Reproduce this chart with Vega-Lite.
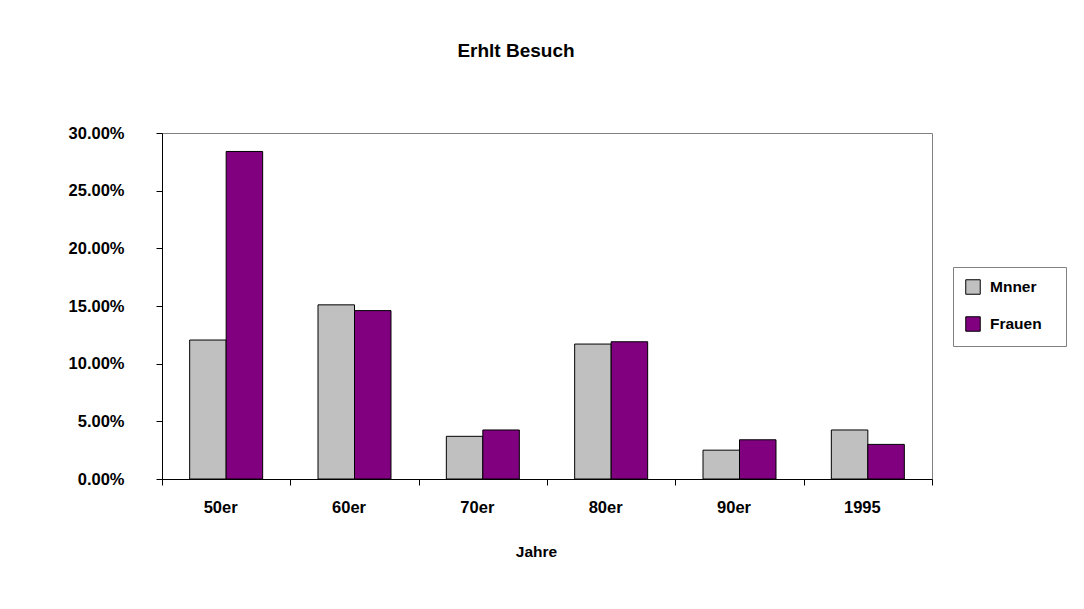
{
  "$schema": "https://vega.github.io/schema/vega-lite/v6.json",
  "width": 770,
  "height": 346,
  "autosize": {"type": "none"},
  "padding": {"left": 162, "top": 133, "right": 152, "bottom": 130},
  "background": "white",
  "title": {
    "text": "Erhlt Besuch",
    "font": "Liberation Sans",
    "fontSize": 19,
    "fontWeight": "bold",
    "color": "black",
    "anchor": "middle",
    "dx": -31,
    "offset": 64
  },
  "data": {
    "values": [
      {"Jahre": "50er", "Geschlecht": "Mnner", "Anteil": 0.1205},
      {"Jahre": "50er", "Geschlecht": "Frauen", "Anteil": 0.284},
      {"Jahre": "60er", "Geschlecht": "Mnner", "Anteil": 0.151},
      {"Jahre": "60er", "Geschlecht": "Frauen", "Anteil": 0.146},
      {"Jahre": "70er", "Geschlecht": "Mnner", "Anteil": 0.037},
      {"Jahre": "70er", "Geschlecht": "Frauen", "Anteil": 0.0425},
      {"Jahre": "80er", "Geschlecht": "Mnner", "Anteil": 0.117},
      {"Jahre": "80er", "Geschlecht": "Frauen", "Anteil": 0.119},
      {"Jahre": "90er", "Geschlecht": "Mnner", "Anteil": 0.025},
      {"Jahre": "90er", "Geschlecht": "Frauen", "Anteil": 0.034},
      {"Jahre": "1995", "Geschlecht": "Mnner", "Anteil": 0.0425},
      {"Jahre": "1995", "Geschlecht": "Frauen", "Anteil": 0.030}
    ]
  },
  "mark": {"type": "bar", "stroke": "black", "strokeWidth": 1},
  "encoding": {
    "x": {
      "field": "Jahre",
      "type": "nominal",
      "sort": ["50er", "60er", "70er", "80er", "90er", "1995"],
      "scale": {"paddingInner": 0, "paddingOuter": 0},
      "axis": {
        "title": "Jahre",
        "labelAngle": 0,
        "tickBand": "extent",
        "labelOffset": -6,
        "labelPadding": 14,
        "titlePadding": 29,
        "titleX": 374,
        "titleFontSize": 15.5
      }
    },
    "xOffset": {
      "field": "Geschlecht",
      "sort": ["Mnner", "Frauen"],
      "scale": {"paddingInner": 0, "paddingOuter": 0.758}
    },
    "y": {
      "field": "Anteil",
      "type": "quantitative",
      "scale": {"domain": [0, 0.3], "nice": false},
      "axis": {
        "title": null,
        "format": ".2%",
        "values": [0, 0.05, 0.1, 0.15, 0.2, 0.25, 0.3],
        "grid": false,
        "labelPadding": 32
      }
    },
    "color": {
      "field": "Geschlecht",
      "type": "nominal",
      "sort": ["Mnner", "Frauen"],
      "scale": {"domain": ["Mnner", "Frauen"], "range": ["#c0c0c0", "#800080"]},
      "legend": {
        "title": null,
        "orient": "none",
        "legendX": 791,
        "legendY": 134,
        "fillColor": "white",
        "strokeColor": "#808080",
        "padding": 12,
        "rowPadding": 17,
        "symbolType": "square",
        "symbolSize": 210,
        "symbolStrokeColor": "black",
        "symbolStrokeWidth": 1,
        "symbolOpacity": 1,
        "labelFont": "Liberation Sans",
        "labelFontWeight": "bold",
        "labelFontSize": 15.5,
        "labelColor": "black",
        "labelOffset": 9,
        "labelExpr": "datum.label + '\u2800'"
      }
    }
  },
  "config": {
    "view": {"stroke": "#808080", "strokeWidth": 1},
    "axis": {
      "domainColor": "black",
      "domainWidth": 1,
      "tickColor": "black",
      "tickWidth": 1,
      "tickSize": 6,
      "labelFont": "Liberation Sans",
      "labelFontWeight": "bold",
      "labelFontSize": 16.5,
      "labelColor": "black",
      "titleFont": "Liberation Sans",
      "titleFontWeight": "bold",
      "titleColor": "black"
    }
  }
}
